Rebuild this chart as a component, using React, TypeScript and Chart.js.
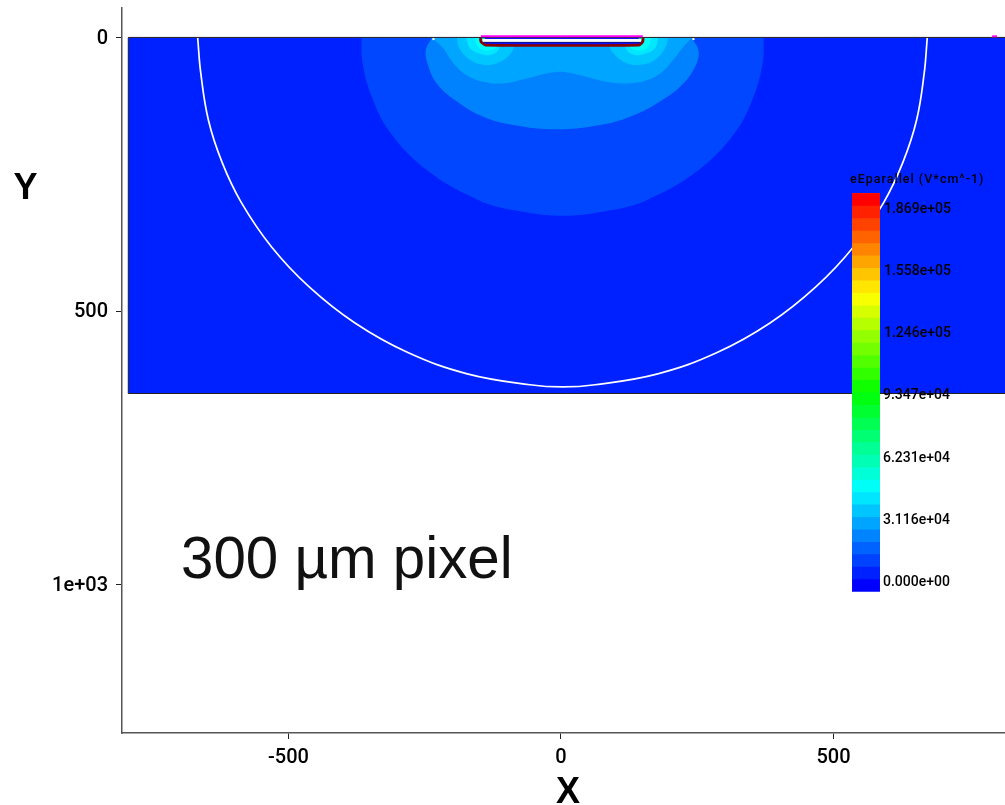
import React, { useEffect, useRef } from "react";
import { Chart, registerables } from "chart.js";

Chart.register(...registerables);

const xTicks = [-500, 0, 500];
const yTicks = [0, 500, 1000];
const yTickLabels = ["0", "500", "1e+03"];

const domainX = [-794, 825, 825, -794];
const domainY = [-1, -1, 650, 650];

const level1X = [-366, -364, -347, -314, -247, -152, -85, 3, 91, 158, 253, 320, 353, 370, 372];
const level1Y = [0, 46, 108, 172, 241, 296, 315, 325, 315, 296, 241, 172, 108, 46, 0];
const level2X = [-237, -248, -245, -228, -191, -142.5, -87.5, -8, 71.5, 126.6, 181.6, 224.5, 249, 252, 240];
const level2Y = [0, 22, 46, 83, 116, 144, 159, 167, 159, 144, 116, 83, 46, 22, 0];
const level3X = [-235.5, -216, -197.5, -173, -142.5, -106, -63, -8, 35, 78, 114, 151, 182, 206, 224.5, 240];
const level3Y = [0, 19, 46, 68, 80, 83, 74, 62, 68, 79, 83, 79, 65, 40, 16, 0];
const level4LeftX = [-191, -186.5, -167, -142.5, -118, -97, -86, -85];
const level4LeftY = [0, 19, 40, 49, 46, 34, 16, 0];
const level4RightX = [197, 191, 172.5, 148, 120.5, 99, 89, 87.5];
const level4RightY = [0, 19, 40, 49, 46, 31, 16, 0];
const level5LeftX = [-174, -167, -148.6, -130, -115, -109];
const level5LeftY = [0, 19, 29, 31, 22, 0];
const level5RightX = [178.6, 172.5, 154, 136, 120.5, 114];
const level5RightY = [0, 19, 29, 31, 22, 0];
const level6LeftX = [-158, -152, -136, -118, -112];
const level6LeftY = [0, 16, 23, 17, 0];
const level6RightX = [166, 160, 145, 126.6, 120.5];
const level6RightY = [0, 16, 23, 17, 0];

const arcX = [-666.6, -661, -647, -622, -587, -531, -462, -378, -281, -172, -57, 3, 62.5, 177.5, 286.5, 383.5, 467.5, 536.5, 592.5, 627.5, 652.5, 666.5, 672];
const arcY = [0, 64, 150, 227, 300, 382, 455, 521, 575, 614, 634, 638, 634, 614, 575, 521, 455, 382, 300, 227, 150, 64, 0];

const contactX = [-148, -147, -138, 143, 150, 151];
const contactY = [0, 7, 13, 13, 7, 0];
const contactTopX = [-147, 150];
const contactTopY = [-3, -3];
const contactFillX = [-144, 147];
const contactWhiteY = [4.5, 4.5];
const contactNavyY = [8, 8];
const cornerLeftX = [-146, -140, -137, -146];
const cornerLeftY = [0, 0, 6, 6];
const cornerRightX = [149, 143, 140, 149];
const cornerRightY = [0, 0, 6, 6];
const specksX = [[-236, -232], [241, 245], [791, 800]];
const specksY = [[2, 2], [2, 2], [-3, -3]];

const barX = [534, 585.3, 585.3, 534];
const barTop = 196277;
const barLows = [-3115, 3116, 9347, 15578, 21809, 28040, 34271, 40502, 46733, 52964, 59195, 65426, 71657, 77888, 84119, 90350, 96581, 102812, 109043, 115274, 121505, 127736, 133967, 140198, 146429, 152660, 158891, 165122, 171353, 177584, 183815, 190046];
const barColors = ["#0000ff", "#0021ff", "#0042ff", "#0063ff", "#0084ff", "#00a5ff", "#00c5ff", "#00e6ff", "#00fff7", "#00ffd6", "#00ffb5", "#00ff94", "#00ff73", "#00ff52", "#00ff31", "#00ff10", "#10ff00", "#31ff00", "#52ff00", "#73ff00", "#94ff00", "#b5ff00", "#d6ff00", "#f7ff00", "#ffe600", "#ffc500", "#ffa500", "#ff8400", "#ff6300", "#ff4200", "#ff2100", "#ff0000"];
const barTickValues = [186900, 155800, 124600, 93470, 62310, 31160, 0];
const barTickLabels = ["1.869e+05", "1.558e+05", "1.246e+05", "9.347e+04", "6.231e+04", "3.116e+04", "0.000e+00"];
const barTitle = "eEparallel (V*cm^-1)";

const pts = (xs: number[], ys: number[]) => xs.map((x, i) => ({ x, y: ys[i] }));

const poly = (xs: number[], ys: number[], color: string, tension = 0.4) => ({
  data: pts(xs, ys),
  fill: "shape",
  backgroundColor: color,
  borderColor: color,
  borderWidth: 0,
  pointRadius: 0,
  tension,
});

const stroke = (xs: number[], ys: number[], color: string, width: number, tension = 0) => ({
  data: pts(xs, ys),
  fill: false,
  borderColor: color,
  borderWidth: width,
  pointRadius: 0,
  tension,
});

const font = "'Liberation Sans', Arial, sans-serif";
const tickFont = "Roboto, 'Liberation Sans', sans-serif";

const labelsPlugin = {
  id: "labelsPlugin",
  afterDatasetsDraw(chart: any) {
    const { ctx, scales } = chart;
    const barScale = scales.yBar;
    ctx.save();
    ctx.fillStyle = "#000";
    ctx.textBaseline = "middle";
    ctx.textAlign = "center";
    ctx.font = `bold 36px ${font}`;
    ctx.fillText("Y", 25.5, 189);
    ctx.fillText("X", 568, 793);
    ctx.textAlign = "left";
    ctx.textBaseline = "alphabetic";
    ctx.font = `58.3px ${font}`;
    ctx.fillStyle = "#111";
    ctx.fillText("300 µm pixel", 181, 578);
    ctx.fillStyle = "#000";
    ctx.textBaseline = "middle";
    ctx.font = `500 14px ${tickFont}`;
    barTickValues.forEach((v, i) => {
      ctx.fillText(barTickLabels[i], v > 100000 ? 884 : 883, barScale.getPixelForValue(v) - 3);
    });
    ctx.font = `500 12.5px ${tickFont}`;
    ctx.letterSpacing = "1px";
    ctx.fillText(barTitle, 850, 180);
    ctx.restore();
  },
};

export default function App() {
  const ref = useRef<HTMLCanvasElement>(null);
  useEffect(() => {
    const groups = [
      poly(domainX, domainY, "#0021ff", 0),
      poly(level1X, level1Y, "#0047ff"),
      poly(level2X, level2Y, "#0082ff"),
      poly(level3X, level3Y, "#00a5ff"),
      poly(level4LeftX, level4LeftY, "#00c6ff"),
      poly(level4RightX, level4RightY, "#00c6ff"),
      poly(level5LeftX, level5LeftY, "#00e7ff"),
      poly(level5RightX, level5RightY, "#00e7ff"),
      poly(level6LeftX, level6LeftY, "#00fff7"),
      poly(level6RightX, level6RightY, "#00fff7"),
      stroke(domainX.concat(domainX[0]), domainY.concat(domainY[0]), "#222222", 1),
      stroke(arcX, arcY, "#ffffff", 1.7, 0.4),
      poly(contactX, contactY, "#1010ff", 0.2),
      poly(cornerLeftX, cornerLeftY, "#00e080", 0),
      poly(cornerRightX, cornerRightY, "#00e080", 0),
      stroke(contactFillX, contactWhiteY, "#ffffff", 3),
      stroke(contactFillX, contactNavyY, "#101070", 0.8),
      stroke(contactX, contactY, "#8b0000", 2.6, 0.2),
      stroke(contactTopX, contactTopY, "#ff00ff", 2),
      ...specksX.map((xs, i) => stroke(xs, specksY[i], i === 2 ? "#ff00ff" : "#ffffff", 2)),
    ].map((d, i) => ({ ...d, xAxisID: "x", yAxisID: "y", order: -i }));

    const bars = barLows.map((low, i) => ({
      ...poly(barX, [low, low, barTop, barTop], barColors[i], 0),
      xAxisID: "x",
      yAxisID: "yBar",
      order: -100 - i,
    }));

    const chart = new Chart(ref.current as HTMLCanvasElement, {
      type: "line",
      data: { datasets: [...groups, ...bars] as any },
      plugins: [labelsPlugin],
      options: {
        animation: false,
        responsive: false,
        layout: { autoPadding: false, padding: { top: 8, left: 0, right: 0, bottom: 0 } },
        plugins: { legend: { display: false }, tooltip: { enabled: false } },
        elements: { line: { borderJoinStyle: "round" } },
        scales: {
          x: {
            type: "linear",
            min: -805.5,
            max: 814.7,
            afterFit: (s: any) => { s.height = 72; s.paddingLeft = 0; s.paddingRight = 0; },
            afterBuildTicks: (s: any) => { s.ticks = xTicks.map((value) => ({ value })); },
            border: { color: "#555555", width: 1.5 },
            grid: { drawOnChartArea: false, tickLength: 6, tickColor: "#222222", tickWidth: 1 },
            ticks: { color: "#000", font: { family: tickFont, size: 20, weight: "500" }, padding: 7, maxRotation: 0, callback: (v: any) => String(v) },
          },
          y: {
            type: "linear",
            reverse: true,
            min: -54.8,
            max: 1270.6,
            afterFit: (s: any) => { s.width = 122; s.paddingTop = 0; s.paddingBottom = 0; },
            afterBuildTicks: (s: any) => { s.ticks = yTicks.map((value) => ({ value })); },
            border: { color: "#555555", width: 1.5 },
            grid: { drawOnChartArea: false, tickLength: 6, tickColor: "#222222", tickWidth: 1 },
            ticks: {
              color: "#000",
              font: { family: tickFont, size: 20, weight: "500" },
              padding: 8,
              labelOffset: 1,
              callback: (v: any) => yTickLabels[yTicks.indexOf(v)] ?? "",
            },
          },
          yBar: { type: "linear", display: false, min: -73824, max: 289039 },
        },
      } as any,
    });
    return () => chart.destroy();
  }, []);
  return (
    <canvas
      ref={ref}
      width={1005}
      height={805}
      style={{ position: "absolute", left: 0, top: 0, display: "block" }}
    />
  );
}
